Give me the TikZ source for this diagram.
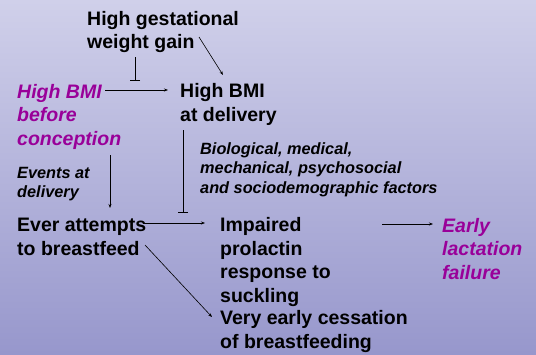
\documentclass[tikz,border=0pt]{standalone}
\usepackage{fontspec}
\setmainfont{Liberation Sans}
\usetikzlibrary{arrows.meta}
\definecolor{bg_top}{HTML}{D0D0EA}
\definecolor{bg_bottom}{HTML}{9797CC}
\definecolor{dark_magenta}{HTML}{990099}

\begin{document}
\begin{tikzpicture}[x=1pt,y=-1pt,
    big/.style={anchor=base west,inner sep=0,align=left,font=\fontsize{19.5}{23.5}\selectfont\bfseries},
    bigit/.style={big,font=\fontsize{19.5}{23.5}\selectfont\bfseries\itshape,text=dark_magenta},
    small/.style={anchor=base west,inner sep=0,align=left,font=\fontsize{16.3}{19.5}\selectfont\bfseries\itshape},
    arr/.style={-{Stealth[length=4pt,width=3pt]},line width=0.6pt},
    inhib/.style={-{Bar[width=10pt]},line width=0.6pt}]
    \useasboundingbox (0,0) rectangle (536,354);
    \shade[top color=bg_top,bottom color=bg_bottom] (0,0) rectangle (536,354);
    % nodes (placed at the baseline of their last line)
    \node[big] (gain) at (87,48.5) {High gestational\\weight gain};
    \node[bigit] (pre) at (17,145) {High BMI\\before\\conception};
    \node[big] (del) at (180,121) {High BMI\\at delivery};
    \node[small] (events) at (17,197.5) {Events at\\delivery};
    \node[small] (factors) at (200,193) {Biological, medical,\\mechanical, psychosocial\\and sociodemographic factors};
    \node[big] (ever) at (17,255) {Ever attempts\\to breastfeed};
    \node[big] (prl) at (220,302) {Impaired\\prolactin\\response to\\suckling};
    \node[big] (stop) at (220,348) {Very early cessation\\of breastfeeding};
    \node[bigit] (fail) at (442,279) {Early\\lactation\\failure};
    % connector ends
    \coordinate (pre_r) at (105,90);
    \coordinate (del_l) at (168,90);
    \coordinate (gain_b) at (135,57);
    \coordinate (bar1) at (135,81);
    \coordinate (gain_r) at (199,37);
    \coordinate (del_t) at (223,75);
    \coordinate (pre_b) at (110,155);
    \coordinate (ever_t) at (110,208);
    \coordinate (del_b) at (183,130);
    \coordinate (bar2) at (183,213);
    \coordinate (ever_r) at (143,223);
    \coordinate (prl_l) at (205,223);
    \coordinate (ever_d) at (145,245);
    \coordinate (stop_l) at (212,317);
    \coordinate (prl_r) at (382,224);
    \coordinate (fail_l) at (433,224);
    % connectors
    \draw[arr] (pre_r) -- (del_l);
    \draw[inhib] (gain_b) -- (bar1);
    \draw[arr] (gain_r) -- (del_t);
    \draw[arr] (pre_b) -- (ever_t);
    \draw[inhib] (del_b) -- (bar2);
    \draw[arr] (ever_r) -- (prl_l);
    \draw[arr] (ever_d) -- (stop_l);
    \draw[arr] (prl_r) -- (fail_l);
\end{tikzpicture}
\end{document}
